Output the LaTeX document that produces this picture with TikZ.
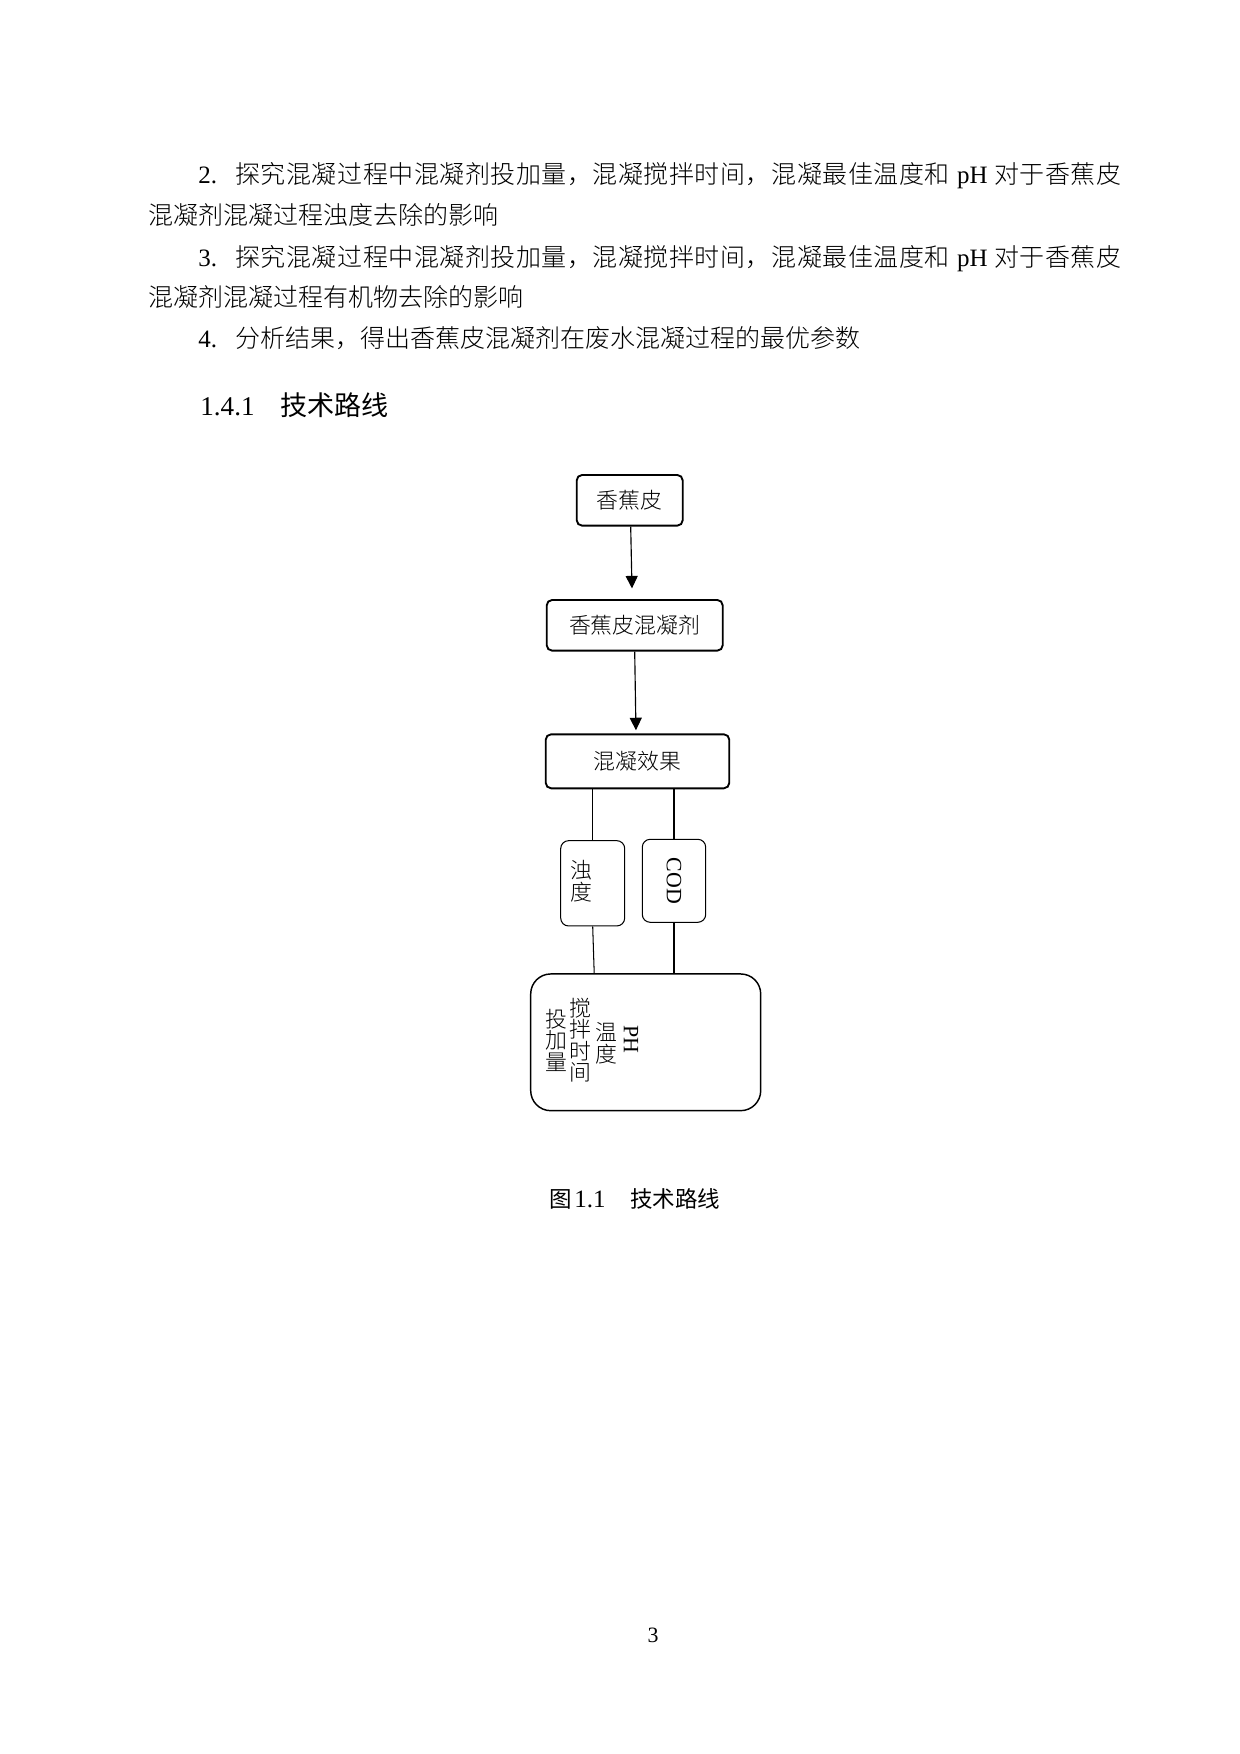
\documentclass[tikz,border=0pt]{standalone}
\usepackage{fontspec}
\setmainfont{Liberation Serif}
\newfontfamily\cjk{Noto Sans CJK SC Light}
\newfontfamily\cjkh{Noto Sans CJK SC}
\usetikzlibrary{arrows.meta,calc}
\def\px{*0.48pt}
\def\spreadit#1{\spreadaux#1\relax}
\def\spreadaux#1{\ifx#1\relax\else#1\hskip0pt plus 1fil\expandafter\spreadaux\fi}
\begin{document}
\begin{tikzpicture}[x=0.48pt,y=-0.48pt,
  body/.style={anchor=base west, inner sep=0, font=\fontsize{12}{14}\selectfont},
  headtext/.style={anchor=base west, inner sep=0, font=\fontsize{13}{15}\selectfont},
  captext/.style={anchor=base west, inner sep=0, font=\fontsize{10.8}{12}\selectfont},
  mainbox/.style={draw, line width=0.9pt, rounded corners=2.6pt, inner sep=0, font=\cjk\fontsize{10.5}{12}\selectfont},
  smallbox/.style={draw, line width=0.5pt, rounded corners=3.8pt, inner sep=0},
  bigbox/.style={draw, line width=0.7pt, rounded corners=9.6pt, inner sep=0},
  vtext/.style={inner sep=0, align=center, font=\cjk\fontsize{10.5}{10.3}\selectfont},
  rtext/.style={inner sep=0, rotate=-90, font=\fontsize{10.5}{12}\selectfont},
  arr/.style={-{Triangle[length=6pt,width=5.8pt]}, line width=0.55pt},
  link/.style={line width=0.5pt}]
\fill[white] (0,0) rectangle (1240,1754);
\useasboundingbox (0,0) rectangle (1240,1754);

% body text
\node[body] (n2) at (198,183.5) {2.};
\node[body] (l1) at (235,183.5) {\hbox to 425.3pt{{\cjk\spreadit{探究混凝过程中混凝剂投加量，混凝搅拌时间，混凝最佳温度和}}\hskip 3pt plus 1fil pH\hskip 3pt plus 1fil{\cjk\spreadit{对于香蕉皮}}\unskip}};
\node[body] (l2) at (148,224.5) {\cjk 混凝剂混凝过程浊度去除的影响};
\node[body] (n3) at (198,266) {3.};
\node[body] (l3) at (235,266) {\hbox to 425.3pt{{\cjk\spreadit{探究混凝过程中混凝剂投加量，混凝搅拌时间，混凝最佳温度和}}\hskip 3pt plus 1fil pH\hskip 3pt plus 1fil{\cjk\spreadit{对于香蕉皮}}\unskip}};
\node[body] (l4) at (148,306.5) {\cjk 混凝剂混凝过程有机物去除的影响};
\node[body] (n4) at (198,347.5) {4.};
\node[body] (l5) at (235,347.5) {\cjk 分析结果，得出香蕉皮混凝剂在废水混凝过程的最优参数};

% heading
\node[headtext] (hn) at (200,415) {1.4.1};
\node[headtext] (ht) at (280,415) {\cjkh 技术路线};

% diagram
\node[mainbox, minimum width=106\px, minimum height=50.7\px] (a) at (629.7,500.3) {香蕉皮};
\node[mainbox, minimum width=176\px, minimum height=50.7\px] (b) at (634.7,625.3) {香蕉皮混凝剂};
\node[mainbox, minimum width=183.6\px, minimum height=54\px] (c) at (637.5,761.3) {混凝效果};

\node[smallbox, minimum width=64\px, minimum height=85.3\px] (zd) at (592.7,883.3) {};
\node[vtext] (zdt) at (581.7,881) {浊\\度};
\node[smallbox, minimum width=63.4\px, minimum height=83\px] (cod) at (674,880.8) {};
\node[rtext] (codt) at (cod.center) {COD};

\node[bigbox, minimum width=230\px, minimum height=136.7\px] (big) at (645.7,1042.3) {};
\node[vtext] (p1) at (556,1040) {投\\加\\量};
\node[vtext] (p2) at (580.7,1040) {搅\\拌\\时\\间};
\node[vtext] (p3) at (606,1043.3) {温\\度};
\node[rtext] (p4) at (631,1039) {PH};

\coordinate (a1) at ($(a.south)+(1,0)$);
\coordinate (a2) at ($(a.south |- b.north)+(2.5,0)$);
\coordinate (b1) at ($(b.south)+(0,0)$);
\coordinate (b2) at ($(b.south |- c.north)+(1.3,0)$);
\draw[arr, shorten >=5.1pt] (a1) -- (a2);
\draw[arr, shorten >=1.5pt] (b1) -- (b2);
\draw[link] (zd.north |- c.south) -- (zd.north);
\draw[link] (cod.north |- c.south) -- (cod.north);
\draw[link] (zd.south) -- ($(zd.south |- big.north)+(1.5,0)$);
\draw[link] (cod.south) -- (cod.south |- big.north);

% caption
\node[captext] (ct1) at (549.5,1207.8) {\cjkh 图};
\node[captext, font=\fontsize{12}{14}\selectfont] (ct2) at (574,1207.8) {1.1};
\node[captext] (ct3) at (630,1207.8) {\cjkh 技术路线};

% page number
\node[anchor=base, inner sep=0, font=\fontsize{10.5}{12}\selectfont] (pg) at (653,1642.4) {3};
\end{tikzpicture}
\end{document}
